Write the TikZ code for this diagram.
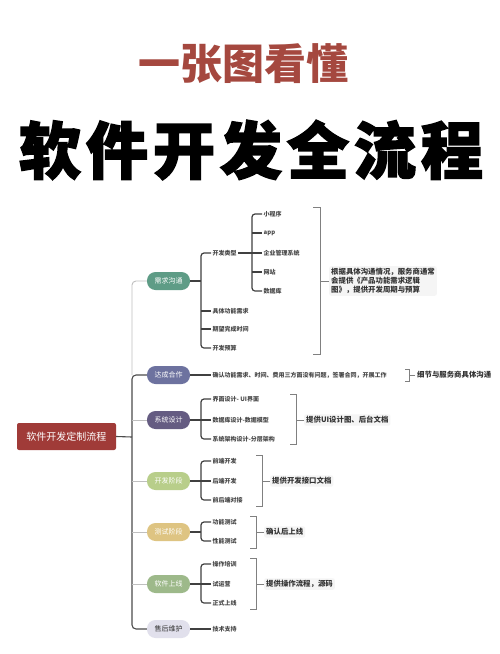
\documentclass[tikz,border=0pt]{standalone}
\usepackage{fontspec}
\setmainfont{Noto Sans CJK SC}
\usetikzlibrary{calc}
\definecolor{titlered}{HTML}{A5483F}
\definecolor{rootred}{HTML}{A03B38}
\definecolor{cA}{HTML}{5E9C86}
\definecolor{cB}{HTML}{6D729F}
\definecolor{cC}{HTML}{655C82}
\definecolor{cD}{HTML}{B8CE8A}
\definecolor{cE}{HTML}{DEC482}
\definecolor{cF}{HTML}{9DB98A}
\definecolor{cG}{HTML}{E1E0EC}
\begin{document}
\begin{tikzpicture}[x=1pt,y=-1pt,
  lone/.style={rounded corners=8.5pt, minimum width=43pt, minimum height=18pt, inner sep=0pt, font=\fontsize{7}{7}\selectfont, text=white},
  item/.style={anchor=west, inner xsep=1.5pt, inner ysep=1pt, font=\fontsize{6}{6}\selectfont\bfseries, text=black!72},
  note/.style={anchor=west, fill=black!4, rounded corners=2pt, inner sep=2pt, font=\fontsize{7.4}{9}\selectfont\bfseries, text=black!80, align=left},
  trunk/.style={draw=black!70, line width=1.1pt, rounded corners=4pt},
  pale/.style={draw=black!25, line width=0.9pt, rounded corners=4pt},
  twig/.style={draw=black!75, line width=1.2pt, rounded corners=3pt},
  rb/.style={draw=black!50, line width=0.8pt},
]
\useasboundingbox[fill=white] (0,0) rectangle (500,654);

% titles
\node[text=titlered, font=\fontsize{42}{42}\selectfont\bfseries] (t1) at (243,64) {一张图看懂};
\node[text=black, font=\fontsize{62}{62}\selectfont\bfseries\addfontfeatures{FakeBold=2.5}] (t2) at (251,150)
  {软\hspace{5pt}件\hspace{5pt}开\hspace{5pt}发\hspace{5pt}全\hspace{5pt}流\hspace{5pt}程};

% root
\node[fill=rootred, text=white, rounded corners=2pt, minimum width=99pt, minimum height=27pt, inner sep=0pt,
  font=\fontsize{10}{10}\selectfont] (root) at (66.5,436.5) {软件开发定制流程};

% level 1
\node[lone, fill=cA] (n1) at (168.5,281) {需求沟通};
\node[lone, fill=cB] (n2) at (168.5,375) {达成合作};
\node[lone, fill=cC] (n3) at (168.5,420) {系统设计};
\node[lone, fill=cD] (n4) at (168.5,481) {开发阶段};
\node[lone, fill=cE] (n5) at (168.5,532) {测试阶段};
\node[lone, fill=cF] (n6) at (168.5,584) {软件上线};
\node[lone, fill=cG, text=black!80] (n7) at (168.5,629) {售后维护};

% trunk
\coordinate (tk) at (132,437);
\draw[trunk] (root.east) -- (tk);
\draw[pale] (n1.west) -| (n2.west -| tk);
\draw[trunk] (n2.west) -| (tk) |- (n7.west);
\foreach \n in {n3,n4,n5,n6} \draw[pale] (\n.west) -- (\n.west -| tk);

% 需求沟通
\node[item] (a1) at (211,253) {开发类型};
\node[item] (a2) at (211,311) {具体功能需求};
\node[item] (a3) at (211,329) {期望完成时间};
\node[item] (a4) at (211,348) {开发预算};
\coordinate (b1) at (201,281);
\draw[twig] (n1.east) -- (b1);
\draw[twig] (a1.west) -| (b1) |- (a4.west);
\foreach \n in {a2,a3} \draw[twig] (\n.west) -- (\n.west -| b1);

\node[item] (c1) at (262,214) {小程序};
\node[item] (c2) at (262,233) {app};
\node[item] (c3) at (262,253) {企业管理系统};
\node[item] (c4) at (262,272) {网站};
\node[item] (c5) at (262,291) {数据库};
\coordinate (b2) at (252,253);
\draw[twig] (a1.east) -- (b2);
\draw[twig] (c1.west) -| (b2) |- (c5.west);
\foreach \n in {c2,c3,c4} \draw[twig] (\n.west) -- (\n.west -| b2);

\node[note] (m1) at (329,281) {根据具体沟通情况，服务商通常\\会提供《产品功能需求逻辑\\图》，提供开发周期与预算};
\coordinate (r1t) at (320,207);
\coordinate (r1b) at (320,354);
\draw[rb] ($(r1t)+(-7,0)$) -- (r1t) -- (r1b) -- ++(-7,0);
\draw[rb] (m1.west) -- (m1.west -| r1t);

% 达成合作
\node[item] (d1) at (211,375) {确认功能需求、时间、费用三方面没有问题，签署合同，开展工作};
\draw[twig] (n2.east) -- (d1.west);
\node[note, fill=none] (m2) at (415,375) {细节与服务商具体沟通};
\coordinate (r2t) at (409,369);
\coordinate (r2b) at (409,381);
\draw[rb] ($(r2t)+(-4,0)$) -- (r2t) -- (r2b) -- ++(-4,0);
\draw[rb] (m2.west) -- (m2.west -| r2t);

% 系统设计
\node[item] (e1) at (211,399) {界面设计- UI界面};
\node[item] (e2) at (211,420) {数据库设计-数据模型};
\node[item] (e3) at (211,439) {系统架构设计-分层架构};
\coordinate (b3) at (201,420);
\draw[twig] (n3.east) -- (b3);
\draw[twig] (e1.west) -| (b3) |- (e3.west);
\draw[twig] (e2.west) -- (e2.west -| b3);
\node[note] (m3) at (304,420) {提供UI设计图、后台文档};
\coordinate (r3t) at (296,394);
\coordinate (r3b) at (296,444);
\draw[rb] ($(r3t)+(-6,0)$) -- (r3t) -- (r3b) -- ++(-6,0);
\draw[rb] (m3.west) -- (m3.west -| r3t);

% 开发阶段
\node[item] (f1) at (211,461) {前端开发};
\node[item] (f2) at (211,481) {后端开发};
\node[item] (f3) at (211,500) {前后端对接};
\coordinate (b4) at (201,481);
\draw[twig] (n4.east) -- (b4);
\draw[twig] (f1.west) -| (b4) |- (f3.west);
\draw[twig] (f2.west) -- (f2.west -| b4);
\node[note] (m4) at (270,481) {提供开发接口文档};
\coordinate (r4t) at (262,455);
\coordinate (r4b) at (262,506);
\draw[rb] ($(r4t)+(-6,0)$) -- (r4t) -- (r4b) -- ++(-6,0);
\draw[rb] (m4.west) -- (m4.west -| r4t);

% 测试阶段
\node[item] (g1) at (211,522) {功能测试};
\node[item] (g2) at (211,541) {性能测试};
\coordinate (b5) at (201,532);
\draw[twig] (n5.east) -- (b5);
\draw[twig] (g1.west) -| (b5) |- (g2.west);
\node[note] (m5) at (264,532) {确认后上线};
\coordinate (r5t) at (256,516);
\coordinate (r5b) at (256,548);
\draw[rb] ($(r5t)+(-6,0)$) -- (r5t) -- (r5b) -- ++(-6,0);
\draw[rb] (m5.west) -- (m5.west -| r5t);

% 软件上线
\node[item] (h1) at (211,564) {操作培训};
\node[item] (h2) at (211,584) {试运营};
\node[item] (h3) at (211,603) {正式上线};
\coordinate (b6) at (201,584);
\draw[twig] (n6.east) -- (b6);
\draw[twig] (h1.west) -| (b6) |- (h3.west);
\draw[twig] (h2.west) -- (h2.west -| b6);
\node[note] (m6) at (264,584) {提供操作流程，源码};
\coordinate (r6t) at (256,558);
\coordinate (r6b) at (256,609);
\draw[rb] ($(r6t)+(-6,0)$) -- (r6t) -- (r6b) -- ++(-6,0);
\draw[rb] (m6.west) -- (m6.west -| r6t);

% 售后维护
\node[item] (i1) at (211,629) {技术支持};
\draw[twig] (n7.east) -- (i1.west);
\end{tikzpicture}
\end{document}
